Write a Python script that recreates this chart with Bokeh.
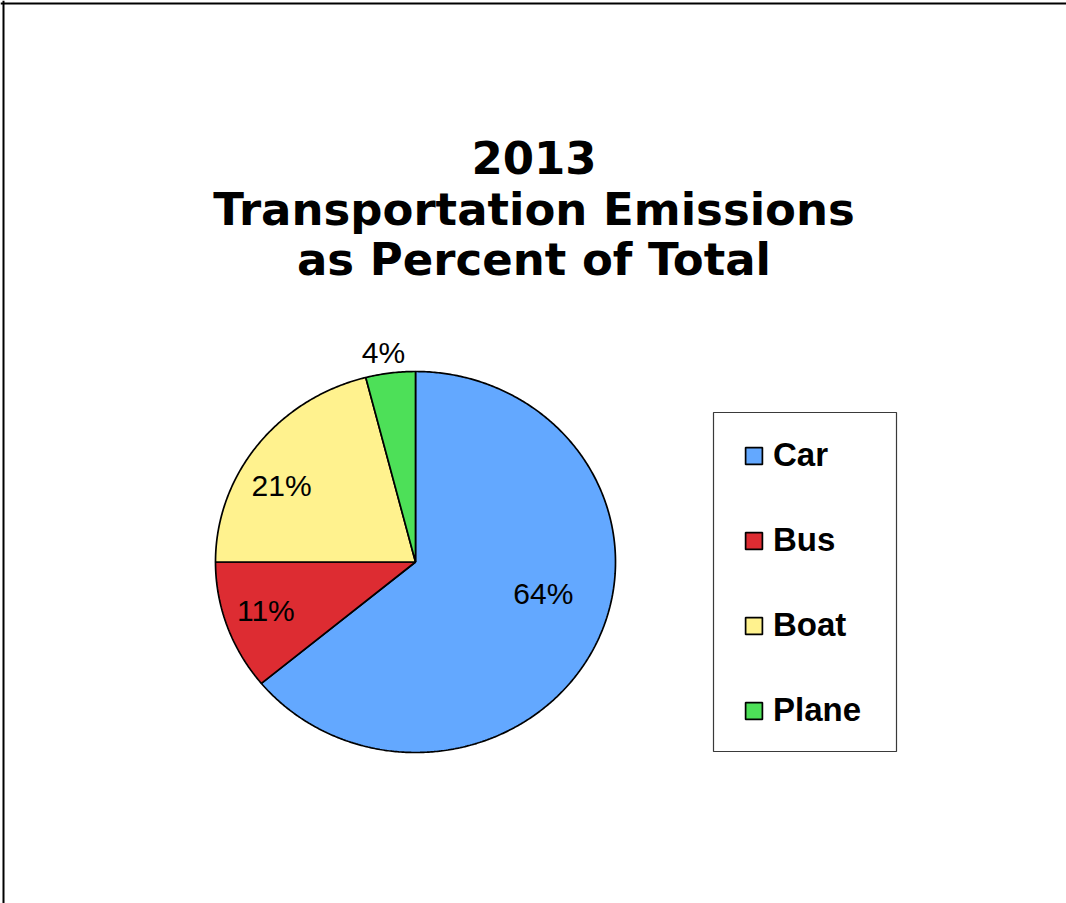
import numpy as np
from bokeh.plotting import figure
from bokeh.models import Range1d, Legend, LegendItem, Span, ColumnDataSource, BoxAnnotation
from bokeh.core.properties import value
from bokeh.embed import file_html
from bokeh.resources import INLINE

# ---- data ----
title_lines = ["2013", "Transportation Emissions", "as Percent of Total"]
categories = ["Car", "Bus", "Boat", "Plane"]
percent = [64, 11, 21, 4]
colors = ["#63A8FF", "#DD2C32", "#FFF28E", "#4DE058"]

# ---- layout constants (pixel-like data space) ----
W, H = 1066, 903
cx, cy = 415.0, 561.5
rx, ry = 200.0, 190.5
label_r = [0.66, 0.79, 0.78, 1.11]
label_nudge = [-10.7, 1.1, -6.9, -1.1]

p = figure(width=W, height=H, x_range=Range1d(0, W), y_range=Range1d(H, 0),
           output_backend="svg", toolbar_location=None, min_border=0,
           x_axis_location=None, y_axis_location=None)
p.grid.visible = False
p.outline_line_color = None
p.background_fill_color = "white"
p.border_fill_color = "white"

# frame lines (top and left)
p.add_layout(Span(location=3, dimension="width", line_color="black", line_width=2))
p.add_layout(Span(location=3, dimension="height", line_color="black", line_width=2))

# pie wedges, clockwise from 12 o'clock
vals = np.array(percent, dtype=float)
frac = vals / vals.sum()
ends = np.cumsum(frac) * 360.0
starts = ends - frac * 360.0
xs, ys = [], []
for a0, a1 in zip(starts, ends):
    n = max(int((a1 - a0) * 2), 12)
    th = np.radians(np.linspace(a0, a1, n))
    xs.append(np.concatenate([[cx], cx + rx * np.sin(th)]).tolist())
    ys.append(np.concatenate([[cy], cy - ry * np.cos(th)]).tolist())
src = ColumnDataSource(dict(xs=xs, ys=ys, color=colors, cat=categories))
r = p.patches("xs", "ys", fill_color="color", line_color="black", line_width=1.7,
              source=src)

# percentage labels
mid = (starts + ends) / 2.0 + np.array(label_nudge)
lx = cx + rx * np.array(label_r) * np.sin(np.radians(mid))
ly = cy - ry * np.array(label_r) * np.cos(np.radians(mid))
ltxt = [f"{v:.0f}%" for v in frac * 100]
p.text(x=lx.tolist(), y=ly.tolist(), text=ltxt, text_font=value("Liberation Sans"),
       text_font_size="30px", text_align="center", text_baseline="middle",
       text_color="black")

# title
tx = [533.5] * 3
ty = [157, 208.5, 259]
p.text(x=tx, y=ty, text=title_lines, text_font=value("DejaVu Sans"),
       text_font_style="bold", text_font_size="45px", text_align="center",
       text_baseline="middle", text_color="black")

# legend frame
p.add_layout(BoxAnnotation(left=713, right=896, top=412, bottom=751,
                           fill_alpha=0, line_color="#3a3a3a", line_alpha=1.0,
                           line_width=1.2))

# legend
items = [LegendItem(label=c, renderers=[r], index=i) for i, c in enumerate(categories)]
legend = Legend(items=items, location=(743, 174), orientation="vertical",
                padding=25, spacing=47, margin=0,
                glyph_width=21, glyph_height=21, label_height=20,
                label_standoff=9,
                label_text_font="Liberation Sans", label_text_font_style="bold",
                label_text_font_size="33px", label_text_color="black",
                border_line_color=None,
                background_fill_alpha=0.0)
p.add_layout(legend)

open("out.html", "w").write(file_html(p, INLINE))
